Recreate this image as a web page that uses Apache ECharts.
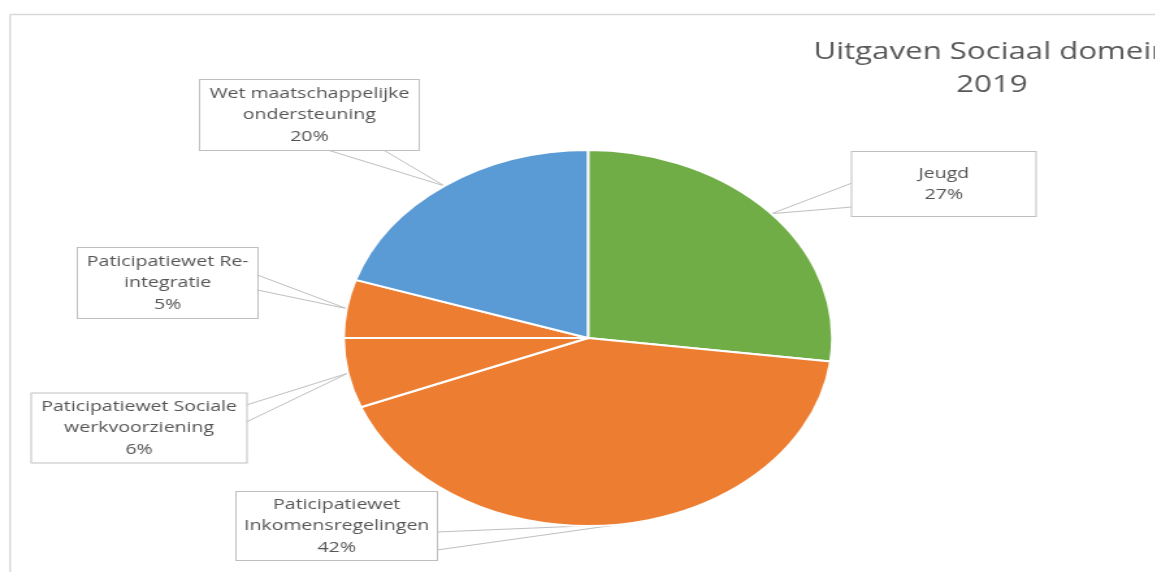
<!DOCTYPE html>
<html>
<head>
<meta charset="utf-8">
<script src="https://cdn.jsdelivr.net/npm/echarts@6/dist/echarts.min.js"></script>
<style>
  html, body { margin: 0; padding: 0; background: #fff; overflow: hidden; }
  #wrap { width: 1155px; height: 572px; overflow: hidden; position: relative; }
  #chart { width: 889px; height: 572px; transform: scaleX(1.3); transform-origin: 0 0; }
</style>
</head>
<body>
<div id="wrap"><div id="chart"></div></div>
<script>
// ---- data ----
const categories = [
  'Jeugd',
  'Paticipatiewet Inkomensregelingen',
  'Paticipatiewet Sociale werkvoorziening',
  'Paticipatiewet Re-integratie',
  'Wet maatschappelijke ondersteuning'
];
const labelTexts = [
  'Jeugd',
  'Paticipatiewet\nInkomensregelingen',
  'Paticipatiewet Sociale\nwerkvoorziening',
  'Paticipatiewet Re-\nintegratie',
  'Wet maatschappelijke\nondersteuning'
];
const values = [27, 42, 6, 5, 20];
const colors = ['#70AD47', '#ED7D31', '#ED7D31', '#ED7D31', '#5B9BD5'];
const titleText = 'Uitgaven Sociaal domein\n2019';

// ---- layout (callout box centres / sizes and wedge bases, unscaled chart space) ----
const boxLayout = [
  { cx: 726, cy: 184, w: 141, h: 64, side: 'left',   a: -1,  b: 23 },
  { cx: 259, cy: 526, w: 154, h: 68, side: 'right',  a: 6,   b: 24 },
  { cx: 107, cy: 428, w: 165, h: 69, side: 'right',  a: -23, b: -6 },
  { cx: 129, cy: 283, w: 138, h: 70, side: 'right',  a: -8,  b: 7 },
  { cx: 238, cy: 115, w: 168, h: 70, side: 'bottom', a: 14,  b: 57 }
];
const LH = 21.5;

function wedgeBase(b) {
  if (b.side === 'left')  return [[b.cx - b.w / 2, b.cy + b.a], [b.cx - b.w / 2, b.cy + b.b]];
  if (b.side === 'right') return [[b.cx + b.w / 2, b.cy + b.a], [b.cx + b.w / 2, b.cy + b.b]];
  return [[b.cx + b.a, b.cy + b.h / 2], [b.cx + b.b, b.cy + b.h / 2]];
}

const chart = echarts.init(document.getElementById('chart'), null, { renderer: 'canvas' });

const data = values.map((v, i) => {
  const lines = labelTexts[i].split('\n').length + 1;
  const b = boxLayout[i];
  const vp = Math.max(0, (b.h - lines * LH) / 2);
  return {
    name: categories[i],
    value: v,
    itemStyle: { color: colors[i] },
    label: {
      width: b.w,
      padding: [vp, 0, vp, 0]
    }
  };
});

chart.setOption({
  backgroundColor: '#ffffff',
  animation: false,
  title: {
    text: titleText,
    left: 758,
    top: 31,
    textAlign: 'center',
    textStyle: {
      fontFamily: 'Open Sans',
      fontSize: 24,
      fontWeight: 'normal',
      color: '#595959',
      lineHeight: 33
    }
  },
  graphic: [
    { type: 'line', shape: { x1: 7.7, y1: 14.5, x2: 900, y2: 14.5 }, style: { stroke: '#d9d9d9', lineWidth: 1.5 } },
    { type: 'line', shape: { x1: 7.7, y1: 14.5, x2: 7.7, y2: 600 }, style: { stroke: '#d9d9d9', lineWidth: 1.5 } }
  ],
  series: [{
    type: 'pie',
    center: [452.3, 338],
    radius: [0, 188],
    startAngle: 90,
    clockwise: true,
    data: data,
    itemStyle: { borderColor: '#ffffff', borderWidth: 2 },
    label: {
      show: true,
      formatter: (p) => labelTexts[p.dataIndex] + '\n' + p.percent.toFixed(0) + '%',
      fontFamily: 'Open Sans',
      fontSize: 15,
      color: '#555555',
      lineHeight: LH,
      align: 'center',
      backgroundColor: '#ffffff',
      borderColor: '#BFBFBF',
      borderWidth: 1
    },
    labelLine: {
      show: true,
      length: 10,
      length2: 10,
      smooth: false,
      lineStyle: { color: '#BFBFBF', width: 1 }
    },
    labelLayout: function (params) {
      const b = boxLayout[params.dataIndex];
      const tip = params.labelLinePoints ? params.labelLinePoints[0] : null;
      const base = wedgeBase(b);
      const out = {
        x: b.cx,
        y: b.cy,
        align: 'center',
        verticalAlign: 'middle'
      };
      if (tip) out.labelLinePoints = [base[0], [tip[0], tip[1]], base[1]];
      return out;
    },
    emphasis: { disabled: true }
  }]
});
</script>
</body>
</html>
